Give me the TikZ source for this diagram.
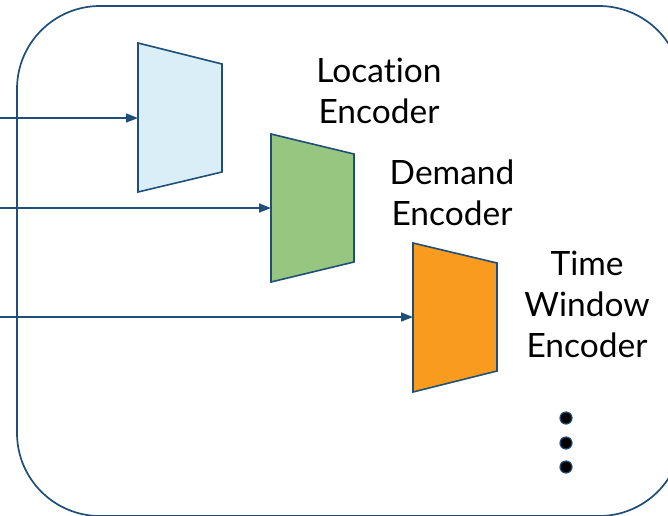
\documentclass[tikz,border=0pt]{standalone}
\usepackage{fontspec}
\setmainfont{Lato}[Ligatures={NoCommon,NoRare,NoContextual}]
\usetikzlibrary{arrows.meta}
\definecolor{navy}{HTML}{1F4E79}
\definecolor{locfill}{HTML}{DAEEF7}
\definecolor{demfill}{HTML}{97C680}
\definecolor{twfill}{HTML}{F99B1E}
\tikzset{
  frame/.style={draw=navy, line width=1.7pt, rounded corners=83pt},
  encoder/.style={draw=navy, line width=1.6pt, line join=miter},
  feed/.style={draw=navy, line width=1.6pt, -{Triangle[length=12pt,width=9pt]}},
  lbl/.style={align=center, font=\fontsize{33.5}{41}\selectfont, text=black, inner sep=0pt},
  dot/.style={circle, fill=black, draw=navy, line width=1.2pt, minimum size=12pt, inner sep=0pt}
}
\begin{document}
\begin{tikzpicture}[x=1pt,y=-1pt]
\useasboundingbox (0,0) rectangle (668,515);
\draw[frame] (17,6) rectangle (682,516);
% encoders
\draw[encoder, fill=locfill] (138,43) -- (222,64) -- (222,172) -- (138,192) -- cycle;
\draw[encoder, fill=demfill] (271,134) -- (354,154) -- (354,262) -- (271,282) -- cycle;
\draw[encoder, fill=twfill] (413,243) -- (497,263) -- (497,371) -- (413,392) -- cycle;
\coordinate (locin) at (138,118);
\coordinate (demin) at (271,208);
\coordinate (twin) at (413,317);
\coordinate (s1) at (0,118);
\coordinate (s2) at (0,208);
\coordinate (s3) at (0,317);
\draw[feed] (s1) -- (locin);
\draw[feed] (s2) -- (demin);
\draw[feed] (s3) -- (twin);
% labels (anchor at baseline of last line)
\node[lbl, anchor=base] (loc) at (379,123) {Location\\Encoder};
\node[lbl, anchor=base] (dem) at (452,225) {Demand\\Encoder};
\node[lbl, anchor=base] (tw) at (587,357) {Time\\Window\\Encoder};
% dots
\node[dot] (d1) at (566,418) {};
\node[dot] (d2) at (566,443) {};
\node[dot] (d3) at (566,467) {};
\end{tikzpicture}
\end{document}
